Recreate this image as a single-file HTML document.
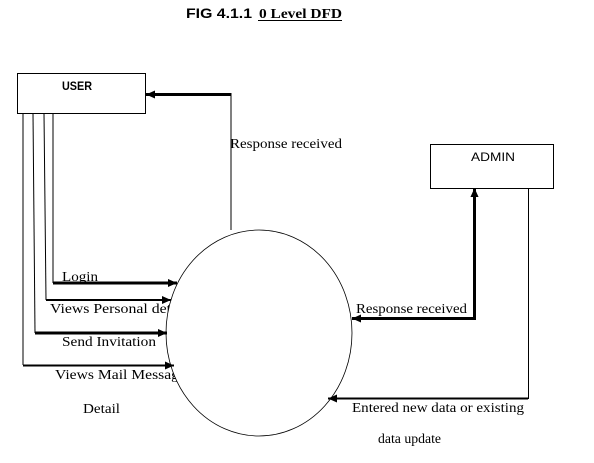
<!DOCTYPE html>
<html><head><style>
html,body{margin:0;padding:0;background:#fff;width:594px;height:463px;overflow:hidden}
</style></head><body>
<svg width="594" height="463" xmlns="http://www.w3.org/2000/svg">
<defs>
<marker id="a" viewBox="0 0 10 10" refX="10" refY="5" markerWidth="10" markerHeight="9" orient="auto" markerUnits="userSpaceOnUse"><path d="M0,0.5 L10,5 L0,9.5 z" fill="#000"/></marker>
</defs>
<text x="186" y="18" font-family="Liberation Sans, sans-serif" font-weight="bold" font-size="14" textLength="66" lengthAdjust="spacingAndGlyphs">FIG 4.1.1</text>
<text x="259" y="18" font-family="Liberation Serif, serif" font-weight="bold" font-size="14" textLength="83" lengthAdjust="spacingAndGlyphs">0 Level DFD</text>
<line x1="258" y1="20.5" x2="342" y2="20.5" stroke="#000" stroke-width="1"/>

<rect x="17.5" y="73.5" width="128" height="40" fill="#fff" stroke="#000"/>
<text x="62" y="90" font-family="Liberation Sans, sans-serif" font-weight="bold" font-size="12" textLength="30" lengthAdjust="spacingAndGlyphs">USER</text>
<rect x="430.5" y="144.5" width="123" height="44" fill="#fff" stroke="#000"/>
<text x="471" y="161" font-family="Liberation Sans, sans-serif" font-size="12" textLength="44" lengthAdjust="spacingAndGlyphs">ADMIN</text>

<g font-family="Liberation Serif, serif" font-size="14">
<text x="230" y="148" textLength="112" lengthAdjust="spacingAndGlyphs">Response received</text>
<text x="62" y="281" textLength="36" lengthAdjust="spacingAndGlyphs">Login</text>
<text x="50" y="313" textLength="121" lengthAdjust="spacingAndGlyphs">Views Personal det</text>
<text x="62" y="346" textLength="94" lengthAdjust="spacingAndGlyphs">Send Invitation</text>
<text x="55" y="379" textLength="124" lengthAdjust="spacingAndGlyphs">Views Mail Messag</text>
<text x="83" y="413" textLength="37" lengthAdjust="spacingAndGlyphs">Detail</text>
<text x="356" y="313" textLength="111" lengthAdjust="spacingAndGlyphs">Response received</text>
<text x="352" y="412" textLength="172" lengthAdjust="spacingAndGlyphs">Entered new data or existing</text>
<text x="378" y="443" textLength="63" lengthAdjust="spacingAndGlyphs">data update</text>
</g>

<ellipse cx="259" cy="333" rx="93" ry="103" fill="#fff" stroke="#000" stroke-width="0.8"/>

<g fill="none" stroke="#000">
<line x1="231" y1="94.5" x2="146" y2="94.5" stroke-width="3" marker-end="url(#a)"/>
<line x1="231" y1="93" x2="231" y2="230" stroke-width="1"/>

<polyline points="53,113 53,283" stroke-width="1"/>
<line x1="53" y1="283" x2="177" y2="283" stroke-width="3" marker-end="url(#a)"/>
<polyline points="44,113 46,300" stroke-width="1"/>
<line x1="46" y1="300" x2="171" y2="300" stroke-width="2" marker-end="url(#a)"/>
<polyline points="33,113 35,333" stroke-width="1"/>
<line x1="35" y1="333" x2="167" y2="333" stroke-width="3" marker-end="url(#a)"/>
<polyline points="23,113 23,365" stroke-width="1"/>
<line x1="23" y1="365.5" x2="174" y2="365.5" stroke-width="2" marker-end="url(#a)"/>

<polyline points="360,318.5 474.5,318.5 474.5,198" stroke-width="3"/>
<line x1="474.5" y1="200" x2="474.5" y2="188" stroke-width="3" marker-end="url(#a)"/>
<line x1="365" y1="318.5" x2="352" y2="318.5" stroke-width="3" marker-end="url(#a)"/>

<polyline points="528.5,188 528.5,398.5 340,398.5" stroke-width="1"/>
<line x1="528" y1="398.5" x2="328" y2="398.5" stroke-width="2" marker-end="url(#a)"/>
</g>
</svg>
</body></html>
